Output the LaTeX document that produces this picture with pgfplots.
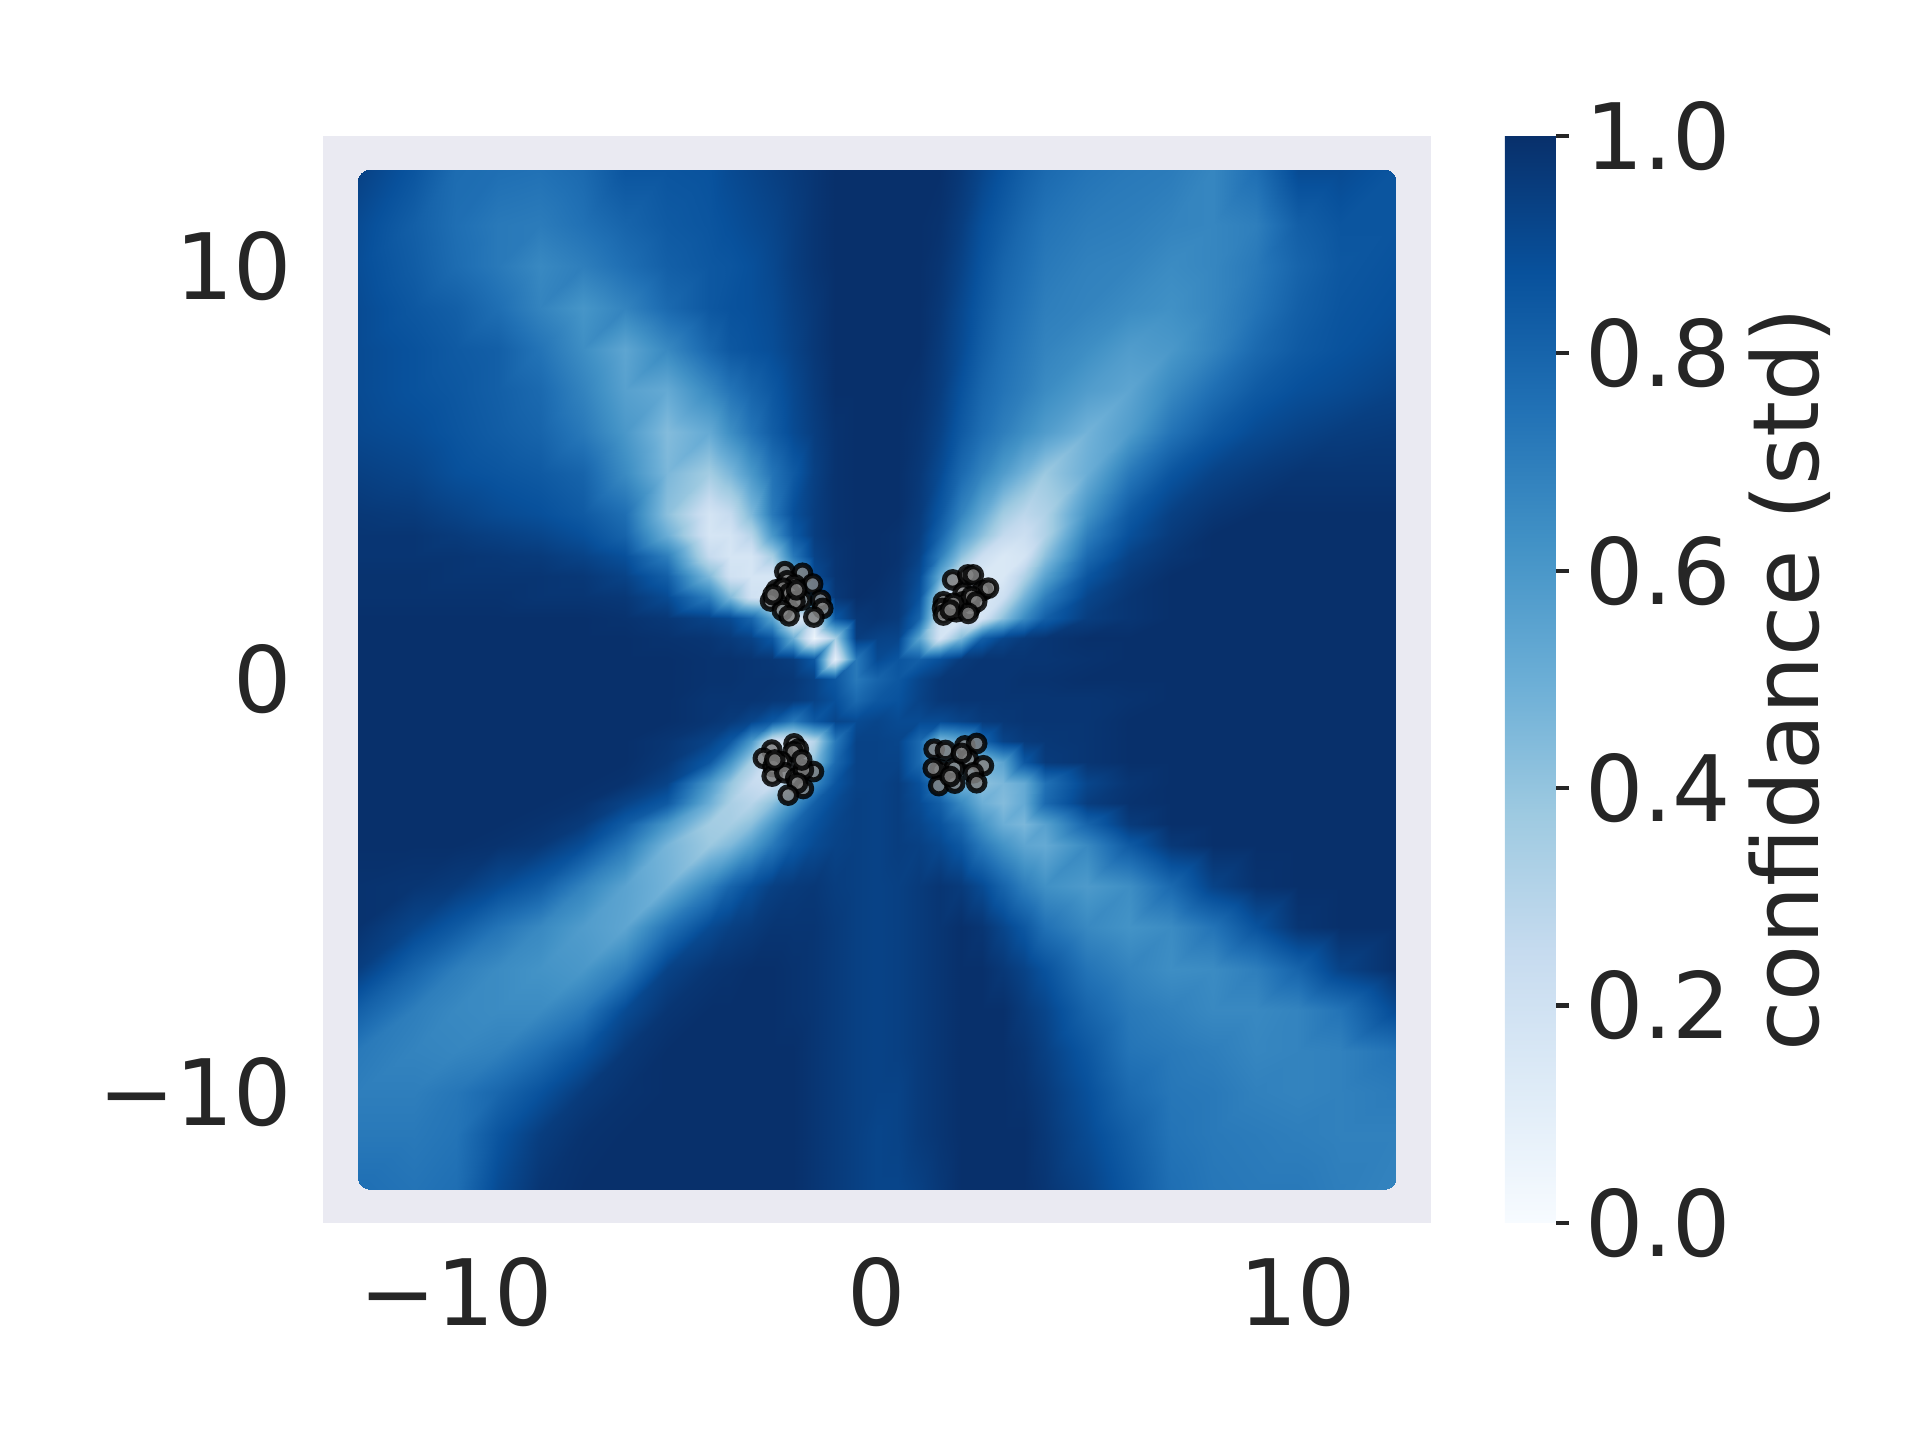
\documentclass[border=0pt]{standalone}
\usepackage{pgfplots}
\pgfplotsset{compat=1.18}
\usepackage{fontspec}
\setmainfont{DejaVu Sans}
\definecolor{txt}{HTML}{262626}
\definecolor{bgc}{HTML}{EAEAF2}
\def\xarr{{-12.35,-11,-10,-9,-8,-7,-6,-5,-4,-3.5,-3,-2.5,-2,-1.5,-1,-.5,0,.5,1,1.5,2,2.5,3,3.5,4,5,6,7,8,9,10,11,12.35}}
\gdef\coords{}
\newcommand\R[2]{\foreach[count=\i] \v in {#2}{\pgfmathparse{\xarr[\i-1]}\xdef\coords{\coords (\pgfmathresult,#1) [\v]}}}
\R{12.35}{.94,.86,.77,.76,.75,.78,.86,.86,.87,.9,.92,.94,.96,.98,1,1,1,1,1,1,.97,.92,.87,.82,.78,.74,.72,.71,.67,.76,.9,.9,.86}
\R{11}{.9,.82,.76,.72,.71,.75,.8,.84,.86,.88,.9,.92,.95,.98,1,1,1,1,1,.99,.95,.88,.83,.78,.74,.71,.7,.68,.67,.7,.82,.86,.86}
\R{10}{.89,.83,.77,.72,.66,.7,.76,.82,.85,.86,.88,.91,.95,.98,1,1,1,1,1,.98,.93,.86,.8,.76,.72,.69,.68,.65,.67,.72,.8,.85,.87}
\R{9}{.9,.85,.82,.76,.68,.61,.68,.78,.85,.87,.88,.9,.94,.97,1,1,1,1,1,.97,.91,.84,.78,.74,.7,.68,.65,.63,.67,.74,.82,.86,.88}
\R{8}{.9,.87,.84,.82,.74,.64,.54,.66,.79,.85,.87,.89,.93,.97,1,1,1,1,1,.96,.9,.82,.76,.72,.68,.64,.58,.6,.68,.78,.84,.87,.9}
\R{7}{.9,.87,.85,.82,.78,.68,.56,.52,.66,.74,.8,.85,.91,.96,1,1,1,1,.99,.95,.87,.79,.74,.7,.65,.58,.54,.66,.76,.84,.88,.9,.93}
\R{6}{.91,.89,.86,.83,.8,.72,.6,.44,.52,.64,.74,.83,.9,.95,.99,1,1,1,.98,.93,.84,.76,.7,.64,.58,.48,.58,.74,.84,.9,.93,.95,.96}
\R{5}{.94,.92,.88,.86,.84,.8,.65,.46,.36,.46,.6,.74,.84,.94,.99,1,1,1,.97,.9,.78,.68,.58,.48,.38,.5,.72,.86,.93,.96,.98,.98,.98}
\R{4}{.97,.96,.93,.9,.88,.84,.76,.42,.18,.25,.45,.72,.88,.95,.99,1,1,1,.96,.85,.68,.52,.36,.28,.32,.62,.84,.94,.98,1,1,1,1}
\R{3.5}{.98,.98,.96,.94,.92,.88,.8,.5,.17,.18,.3,.6,.84,.95,.99,1,1,.99,.95,.8,.58,.42,.26,.22,.32,.7,.88,.96,1,1,1,1,1}
\R{3}{.98,.98,.98,.97,.96,.93,.88,.7,.25,.17,.17,.35,.72,.93,.98,1,1,.99,.93,.7,.42,.22,.15,.18,.42,.78,.93,.98,1,1,1,1,1}
\R{2.5}{.99,.99,.98,.98,.98,.97,.93,.82,.45,.2,.17,.17,.5,.9,.98,1,1,.98,.9,.52,.22,.15,.15,.32,.55,.86,.96,1,1,1,1,1,1}
\R{2}{.99,.99,.99,.99,.98,.98,.97,.9,.7,.45,.2,.15,.25,.8,.97,1,.99,.97,.87,.3,.15,.15,.22,.48,.7,.92,.98,1,1,1,1,1,1}
\R{1.5}{1,1,1,1,1,1,.99,.97,.93,.9,.8,.55,.12,.2,.85,.97,.98,.96,.8,.2,.15,.18,.42,.65,.82,.95,.98,1,1,1,1,1,1}
\R{1}{1,1,1,1,1,1,1,.99,.98,.96,.93,.85,.5,.05,.35,.95,.93,.92,.55,.18,.45,.82,.92,.96,.98,1,1,1,1,1,1,1,1}
\R{.5}{1,1,1,1,1,1,1,1,.99,.99,.98,.97,.95,.85,.1,.72,.9,.86,.82,.88,.96,.98,.98,.98,.98,.99,1,1,1,1,1,1,1}
\R{0}{1,1,1,1,1,1,1,1,.99,.99,.98,.98,.97,.93,.85,.72,.8,.85,.92,.97,.98,.98,.98,.99,.99,1,1,1,1,1,1,1,1}
\R{-.5}{1,1,1,1,1,1,1,1,.98,.98,.98,.97,.96,.93,.88,.78,.85,.87,.93,.97,.98,.98,.98,.98,.98,.98,.99,1,1,1,1,1,1}
\R{-1}{1,1,1,1,1,1,1,1,.98,.96,.92,.85,.72,.85,.92,.9,.92,.9,.9,.9,.93,.96,.97,.98,.98,.98,1,1,1,1,1,1,1}
\R{-1.5}{1,1,1,1,1,1,1,.98,.93,.85,.6,.2,.15,.3,.72,.93,.93,.92,.78,.45,.52,.8,.93,.96,.97,.98,1,1,1,1,1,1,1}
\R{-2}{1,1,1,1,1,1,1,.97,.85,.62,.35,.18,.2,.42,.78,.93,.93,.93,.78,.52,.42,.42,.55,.85,.96,.98,1,1,1,1,1,1,1}
\R{-2.5}{1,1,1,1,1,1,.99,.93,.6,.4,.25,.22,.35,.65,.86,.93,.93,.95,.88,.7,.48,.42,.46,.52,.75,.92,.98,1,1,1,1,1,1}
\R{-3}{1,1,1,1,1,.99,.93,.84,.5,.34,.3,.42,.62,.82,.9,.94,.93,.95,.9,.82,.66,.5,.44,.52,.78,.95,.99,1,1,1,1,1,1}
\R{-3.5}{1,1,1,1,.99,.96,.83,.6,.36,.35,.42,.6,.78,.87,.92,.94,.93,.95,.92,.87,.78,.62,.5,.46,.56,.8,.96,1,1,1,1,1,1}
\R{-4}{1,1,1,.99,.97,.89,.72,.47,.38,.45,.58,.72,.84,.9,.93,.94,.93,.95,.94,.91,.85,.72,.62,.54,.52,.66,.84,.97,1,1,1,1,1}
\R{-5}{.99,.98,.96,.9,.83,.68,.55,.48,.68,.8,.88,.94,.96,.97,.95,.94,.93,.94,.96,.98,.96,.9,.8,.7,.63,.59,.64,.78,.93,.99,1,1,1}
\R{-6}{.99,.92,.84,.74,.66,.58,.54,.74,.9,.94,.96,.98,.98,.98,.96,.94,.93,.94,.96,.98,1,.98,.92,.85,.75,.66,.62,.65,.74,.87,.98,1,1}
\R{-7}{.95,.8,.7,.65,.62,.6,.7,.93,.98,.99,1,1,.99,.98,.96,.94,.93,.94,.96,.98,1,1,.97,.93,.87,.74,.68,.64,.65,.7,.8,.93,1}
\R{-8}{.82,.7,.66,.65,.65,.72,.9,.98,1,1,1,1,.99,.98,.96,.94,.93,.94,.96,.98,1,1,1,.96,.92,.8,.72,.69,.66,.66,.68,.74,.9}
\R{-9}{.72,.68,.67,.69,.76,.86,.97,1,1,1,1,1,1,.98,.96,.94,.93,.94,.96,.98,1,1,1,.98,.94,.85,.74,.72,.7,.67,.68,.69,.74}
\R{-10}{.7,.7,.73,.79,.87,.96,.99,1,1,1,1,1,1,.98,.96,.94,.93,.93,.96,.98,1,1,1,.99,.96,.88,.78,.73,.72,.69,.68,.69,.71}
\R{-11}{.72,.72,.74,.86,.95,.99,1,1,1,1,1,1,1,.98,.96,.94,.92,.93,.96,.98,1,1,1,1,.97,.9,.82,.74,.72,.71,.7,.69,.69}
\R{-12.35}{.76,.74,.76,.9,.98,1,1,1,1,1,1,1,1,.98,.96,.94,.92,.92,.94,.97,1,1,1,1,.98,.93,.85,.76,.73,.72,.72,.7,.68}
\tikzset{tl/.style={font=\fontsize{22}{26}\selectfont,text=txt}}
\pgfplotsset{
  heatstyle/.style={surf,shader=interp,mesh/cols=33,point meta=explicit,forget plot},
  clustermarks/.style={only marks,mark=*,mark size=2pt,
    mark options={draw=black,fill=gray,line width=1.2pt,draw opacity=.85,fill opacity=.85}}
}
\begin{document}
\begin{tikzpicture}
\path[use as bounding box] (0,0) rectangle (460.8pt,345.6pt);
\begin{axis}[
  at={(77.52pt,52.08pt)},anchor=south west,
  scale only axis,width=265.9pt,height=260.9pt,
  xmin=-13.17,xmax=13.17,ymin=-13.16,ymax=13.16,
  axis line style={draw=none},
  axis background/.style={fill=bgc},
  xtick={-10,0,10},xticklabels={−10,0,10},
  ytick={-10,0,10},yticklabels={−10,0,10},
  tick style={draw=none},
  tick label style={tl},
  xticklabel style={yshift=-4.7pt},
  yticklabel style={xshift=-3.9pt},
  colormap={blues}{rgb255=(247,251,255) rgb255=(222,235,247) rgb255=(198,219,239) rgb255=(158,202,225) rgb255=(107,174,214) rgb255=(66,146,198) rgb255=(33,113,181) rgb255=(8,81,156) rgb255=(8,48,107)},
  point meta min=0,point meta max=1,
  colorbar,
  colorbar style={
    at={(parent axis.north east)},anchor=north west,xshift=9.2pt,
    width=12.24pt,
    axis line style={draw=none},
    ytick={0,0.2,0.4,0.6,0.8,1},
    yticklabels={0.0,0.2,0.4,0.6,0.8,1.0},
    ytick pos=right,
    ylabel={confidance (std)},
    tick align=outside,
    major tick length=3.2pt,
    ytick style={draw=txt,line width=1pt},
    yticklabel style={tl,xshift=.3pt},
    ylabel style={tl,yshift=2.5pt},
  },
]
\begin{scope}
\clip[rounded corners=3pt] (axis cs:-12.35,-12.35) rectangle (axis cs:12.35,12.35);
\edef\temp{\noexpand\addplot[heatstyle] coordinates {\coords};}\temp
\end{scope}
\addplot[clustermarks] coordinates {
(-2.19,2.61)(-1.77,2.57)(-1.53,2.31)(-2.13,2.39)(-1.95,2.29)(-2.39,2.17)(-2.23,2.21)(-2.53,1.90)(-2.07,2.09)(-1.79,1.92)(-1.95,1.88)(-1.34,1.92)(-1.29,1.72)(-2.25,1.67)(-2.09,1.54)(-1.50,1.51)(-2.47,2.05)(-1.91,2.17)
(1.80,2.41)(2.16,2.53)(2.29,2.53)(2.05,2.09)(2.51,2.15)(2.65,2.21)(1.58,1.88)(1.56,1.72)(1.58,1.56)(1.89,1.64)(2.21,1.72)(2.05,1.88)(2.25,2.01)(2.37,1.88)(2.17,1.60)(1.82,1.84)(1.74,1.68)
(-2.50,-1.71)(-2.70,-1.91)(-1.97,-1.56)(-1.87,-1.69)(-1.99,-1.75)(-2.27,-1.99)(-2.47,-2.11)(-2.49,-2.34)(-2.19,-2.26)(-1.93,-2.39)(-1.51,-2.23)(-1.75,-2.19)(-1.75,-2.64)(-1.89,-2.51)(-2.11,-2.80)(-2.43,-1.95)(-1.79,-1.95)
(1.36,-1.69)(1.63,-1.72)(2.09,-1.61)(2.37,-1.55)(2.17,-1.93)(1.50,-2.19)(1.84,-2.15)(2.53,-2.09)(2.29,-2.26)(2.37,-2.50)(1.47,-2.57)(1.85,-2.51)(1.74,-2.35)(2.01,-1.79)(1.34,-2.15)
};
\end{axis}
\end{tikzpicture}
\end{document}
